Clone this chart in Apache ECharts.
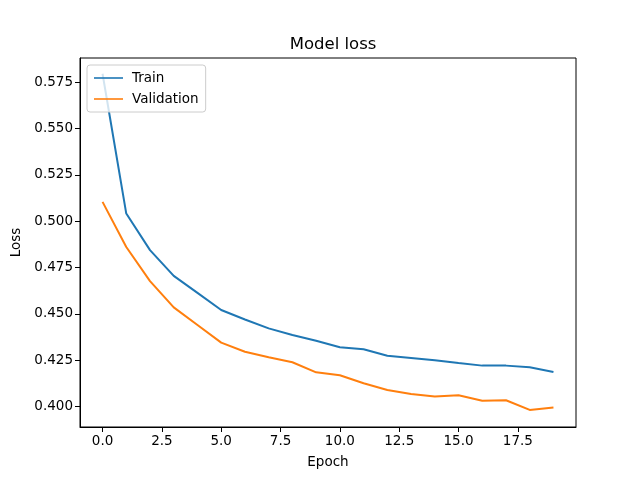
<!DOCTYPE html>
<html>
<head>
<meta charset="utf-8">
<script src="https://cdn.jsdelivr.net/npm/echarts@6/dist/echarts.min.js"></script>
<style>html,body{margin:0;padding:0;background:#fff;}#c{width:640px;height:480px;}</style>
</head>
<body>
<div id="c"></div>
<script>
var epochs = [0,1,2,3,4,5,6,7,8,9,10,11,12,13,14,15,16,17,18,19];
var trainLoss = [0.5795,0.5041,0.4844,0.4705,0.4613,0.4521,0.4470,0.4422,0.4386,0.4355,0.4320,0.4309,0.4274,0.4262,0.4250,0.4235,0.4221,0.4221,0.4212,0.4187];
var valLoss = [0.5104,0.4861,0.4677,0.4535,0.4440,0.4345,0.4296,0.4266,0.4239,0.4185,0.4169,0.4126,0.4090,0.4068,0.4054,0.4061,0.4032,0.4034,0.3982,0.3995];
var xTicks = [0,2.5,5,7.5,10,12.5,15,17.5];
var yTicks = [0.400,0.425,0.450,0.475,0.500,0.525,0.550,0.575];

var font = 'DejaVu Sans';
var chart = echarts.init(document.getElementById('c'), null, {renderer:'canvas'});
function pairs(ys){ return epochs.map(function(e,i){ return [e, ys[i]]; }); }
chart.setOption({
  animation: false,
  backgroundColor: '#ffffff',
  title: {
    text: 'Model loss', left: 328, top: 31, textAlign: 'center',
    textStyle: {fontFamily: font, fontSize: 16.5, fontWeight: 'normal', color: '#000'}
  },
  legend: {
    orient: 'vertical', left: 87, top: 65,
    padding: [6, 7, 6, 7], itemGap: 7,
    backgroundColor: 'rgba(255,255,255,0.8)', borderColor: '#cccccc', borderWidth: 1, borderRadius: 3,
    itemWidth: 29, itemHeight: 12,
    icon: 'path://M0,5.2 L29,5.2 L29,6.8 L0,6.8 Z',
    textStyle: {fontFamily: font, fontSize: 13.5, color: '#000', padding: [0,0,0,4]},
    data: ['Train', 'Validation']
  },
  grid: {left: 80, right: 64, top: 58, bottom: 53, show: true, borderColor: '#000', borderWidth: 1, backgroundColor: 'transparent'},
  xAxis: {
    type: 'value', min: -0.95, max: 19.95,
    name: 'Epoch', nameLocation: 'middle', nameGap: 28,
    nameTextStyle: {fontFamily: font, fontSize: 13.5, color: '#000'},
    axisLine: {show: true, onZero: false, lineStyle: {color: '#000', width: 1}},
    axisTick: {show: true, inside: false, length: 5, customValues: xTicks, lineStyle: {color: '#000'}},
    axisLabel: {customValues: xTicks, fontFamily: font, fontSize: 13.5, color: '#000', margin: 7,
      formatter: function(v){ return v.toFixed(1); }},
    splitLine: {show: false}
  },
  yAxis: {
    type: 'value', min: 0.389, max: 0.588,
    name: 'Loss', nameLocation: 'middle', nameGap: 53, nameRotate: 90,
    nameTextStyle: {fontFamily: font, fontSize: 13.5, color: '#000'},
    axisLine: {show: true, onZero: false, lineStyle: {color: '#000', width: 1}},
    axisTick: {show: true, inside: false, length: 5, customValues: yTicks, lineStyle: {color: '#000'}},
    axisLabel: {customValues: yTicks, fontFamily: font, fontSize: 13.5, color: '#000', margin: 7,
      formatter: function(v){ return v.toFixed(3); }},
    splitLine: {show: false}
  },
  series: [
    {name: 'Train', type: 'line', data: pairs(trainLoss), showSymbol: false, symbol: 'none',
     lineStyle: {color: '#1f77b4', width: 2}, itemStyle: {color: '#1f77b4'}, z: 2},
    {name: 'Validation', type: 'line', data: pairs(valLoss), showSymbol: false, symbol: 'none',
     lineStyle: {color: '#ff7f0e', width: 2}, itemStyle: {color: '#ff7f0e'}, z: 3}
  ]
});
</script>
</body>
</html>
